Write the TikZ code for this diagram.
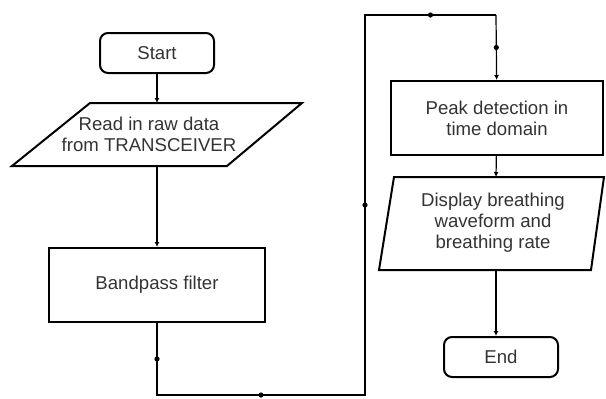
\documentclass[tikz,border=0pt]{standalone}
\usepackage{fontspec}
\setmainfont{Liberation Sans}
\usetikzlibrary{arrows.meta}

\tikzset{
    box/.style={draw, line width=1pt, minimum width=108pt, minimum height=37pt, align=center},
    term/.style={draw, line width=1pt, rounded corners=4pt, minimum width=57pt, minimum height=20pt},
    txt/.style={align=center},
    line/.style={line width=0.6pt},
    arr/.style={line width=0.6pt, -{Latex[length=2.5pt,width=2.5pt]}},
    dot/.style={circle, fill, inner sep=0pt, minimum size=2.6pt}
}

\begin{document}
\begin{tikzpicture}[x=0.5pt, y=-0.5pt, font=\fontsize{9.3}{10.5}\selectfont, text=black!80]
    \useasboundingbox (0,0) rectangle (606,398);
    % left column
    \node[term] (start) at (157,53) {Start};
    \draw[line width=1pt] (90,103) -- (302,103) -- (227,166) -- (12,166) -- cycle;
    \node[txt] (read) at (149,134) {Read in raw data\\from TRANSCEIVER};
    \coordinate (readN) at (157,103);
    \coordinate (readS) at (157,166);
    \node[box] (band) at (157,285) {Bandpass filter};
    % right column
    \node[box, minimum width=106pt] (peak) at (497,118) {Peak detection in\\time domain};
    \draw[line width=1pt] (394,177) -- (604,177) -- (591,270) -- (379,270) -- cycle;
    \node[txt] (disp) at (493,223) {Display breathing\\waveform and\\breathing rate};
    \coordinate (dispN) at (496,177);
    \coordinate (dispS) at (496,270);
    \node[term] (end) at (501,357) {End};
    % corners of the long connector
    \coordinate (c1) at (157,395);
    \coordinate (c2) at (365,395);
    \coordinate (c3) at (365,15);
    \coordinate (c4) at (496,15);
    % connectors
    \draw[arr] (start) -- (readN);
    \draw[arr] (readS) -- (band);
    \draw[line] (band) -- node[dot]{} (c1) -- node[dot]{} (c2) -- node[dot]{} (c3) -- node[dot]{} (c4);
    \draw[arr] (c4) -- node[dot]{} (peak);
    \draw[arr] (peak) -- (dispN);
    \draw[arr] (dispS) -- (end.north -| dispS);
\end{tikzpicture}
\end{document}
